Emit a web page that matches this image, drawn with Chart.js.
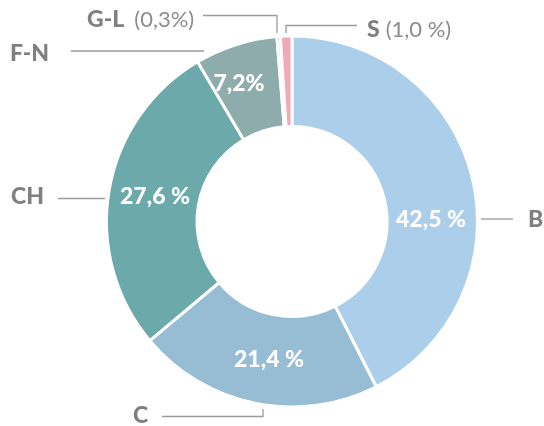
<!DOCTYPE html>
<html>
<head>
<meta charset="utf-8">
<script src="https://cdn.jsdelivr.net/npm/chart.js@4/dist/chart.umd.min.js"></script>
<style>
  html, body { margin: 0; padding: 0; background: #fff; }
  #wrap { width: 544px; height: 426px; position: relative; }
</style>
</head>
<body>
<div id="wrap"><canvas id="shareChart"></canvas></div>
<script>
// data
var categories = ['B', 'C', 'CH', 'F-N', 'G-L', 'S'];
var shares = [42.5, 21.4, 27.6, 7.2, 0.3, 1.0];
var colors = ['#abcfeb', '#96bdd3', '#6ba9ab', '#8facad', '#c7a5b5', '#f1aab5'];

function fmt(v, sp) {
    return v.toFixed(1).replace('.', ',') + (sp ? ' %' : '%');
}

var FONT = 'Lato, "Open Sans", sans-serif';
var LABEL_GREY = '#808080';
var LINE_GREY = '#9a9a9a';

// where the white value label sits, relative to the doughnut centre (only the big slices)
var inside = {
    'B':   { dx: 139, dy: -3, sp: true },
    'C':   { dx: -23, dy: 137, sp: true },
    'CH':  { dx: -137, dy: -26, sp: true },
    'F-N': { dx: -53, dy: -139, sp: false }
};

// outside labels: text position + leader line path
var outside = {
    'B':   { x: 528, y: 219, line: [[481, 219], [513, 219]] },
    'C':   { x: 133, y: 415, line: [[162, 416.5], [263, 416.5], [263, 409]] },
    'CH':  { x: 11, y: 196, line: [[58, 198.5], [105, 198.5]] },
    'F-N': { x: 10, y: 53, line: [[71, 51], [204, 51]] },
    'G-L': { x: 87, y: 18.5, extra: true, sp: false, line: [[203, 15.5], [277, 15.5], [277, 33]] },
    'S':   { x: 367, y: 28.5, extra: true, sp: true, line: [[357, 25.5], [286, 25.5], [286, 33]] }
};

var labelPlugin = {
    id: 'labelPlugin',
    afterDatasetsDraw: function(chart) {
        var ctx = chart.ctx;
        var meta = chart.getDatasetMeta(0);
        ctx.save();
        meta.data.forEach(function(arc, i) {
            var name = categories[i];
            var cx = arc.x, cy = arc.y;
            // value inside the ring
            var ins = inside[name];
            if (ins) {
                ctx.font = '900 23px ' + FONT;
                ctx.fillStyle = '#ffffff';
                ctx.textAlign = 'center';
                ctx.textBaseline = 'alphabetic';
                ctx.fillText(fmt(shares[i], ins.sp), cx + ins.dx, cy + ins.dy + 8);
            }
            // category outside
            var o = outside[name];
            if (o) {
                ctx.strokeStyle = LINE_GREY;
                ctx.lineWidth = 1.3;
                ctx.beginPath();
                o.line.forEach(function(p, k) {
                    if (k === 0) ctx.moveTo(p[0], p[1]); else ctx.lineTo(p[0], p[1]);
                });
                ctx.stroke();

                ctx.textAlign = 'left';
                ctx.textBaseline = 'alphabetic';
                ctx.font = '900 23px ' + FONT;
                ctx.fillStyle = LABEL_GREY;
                ctx.fillText(name, o.x, o.y + 8);
                if (o.extra) {
                    var w = ctx.measureText(name).width;
                    ctx.font = '22px ' + FONT;
                    ctx.fillStyle = '#8c8c8c';
                    ctx.fillText('(' + fmt(shares[i], o.sp) + ')', o.x + w + (name === 'S' ? 6 : 10), o.y + 8);
                }
            }
        });
        ctx.restore();
    }
};

var ctx = document.getElementById('shareChart').getContext('2d');
var shareChart = new Chart(ctx, {
    type: 'doughnut',
    data: {
        labels: categories,
        datasets: [{
            data: shares,
            backgroundColor: colors,
            borderColor: '#ffffff',
            borderWidth: 3
        }]
    },
    options: {
        responsive: true,
        maintainAspectRatio: false,
        animation: false,
        cutout: 95,
        layout: {
            padding: { left: 105, right: 65, top: 34, bottom: 17 }
        },
        plugins: {
            legend: { display: false },
            tooltip: { enabled: false }
        }
    },
    plugins: [labelPlugin]
});
</script>
</body>
</html>
